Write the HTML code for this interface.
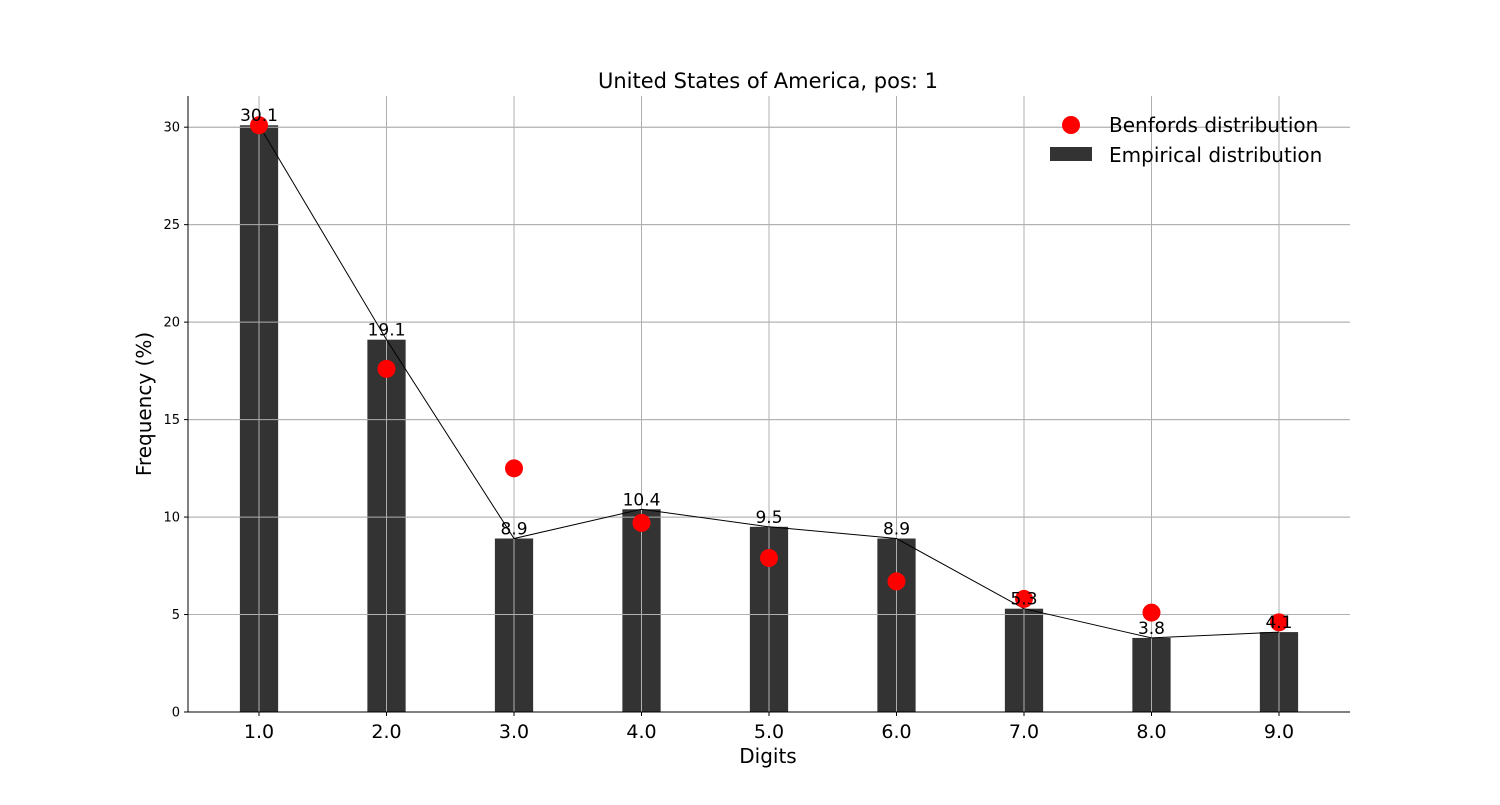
<!DOCTYPE html>
<html><head><meta charset="utf-8"><style>
body{margin:0;background:#fff}
svg text{font-family:"DejaVu Sans","Liberation Sans",sans-serif}
</style></head><body>
<svg width="1500" height="800" id="chart" xmlns="http://www.w3.org/2000/svg">
<text x="768" y="88" font-size="21" text-anchor="middle">United States of America, pos: 1</text>
<g id="grid"></g>
<g id="bars"></g>
<g id="gridTop"></g>
<g id="line"></g>
<g id="dots"></g>
<g id="labels"></g>
<g id="axes"></g>
<text x="768" y="763" font-size="20" text-anchor="middle">Digits</text>
<text transform="translate(151,404) rotate(-90)" font-size="20" text-anchor="middle">Frequency (%)</text>
<g>
<circle cx="1071" cy="125" r="9" fill="#ff0000"/>
<text x="1109" y="132" font-size="20">Benfords distribution</text>
<rect x="1050" y="147" width="42" height="14" fill="#333333"/>
<text x="1109" y="162" font-size="20">Empirical distribution</text>
</g>
</svg>
<script>
const digits=[1,2,3,4,5,6,7,8,9];
const empirical=[30.1,19.1,8.9,10.4,9.5,8.9,5.3,3.8,4.1];
const benford=[30.1,17.6,12.5,9.7,7.9,6.7,5.8,5.1,4.6];
const yTicks=[0,5,10,15,20,25,30];
const NS="http://www.w3.org/2000/svg";
const X0=188,X1=1350,Y0=712,Y1=96,xmin=0.443,xmax=9.557,ymax=31.6;
const xs=v=>X0+(v-xmin)/(xmax-xmin)*(X1-X0);
const ys=v=>Y0-v/ymax*(Y0-Y1);
function mk(tag,attrs,parent){const e=document.createElementNS(NS,tag);for(const k in attrs)e.setAttribute(k,attrs[k]);document.getElementById(parent).appendChild(e);return e;}
// grid
yTicks.forEach(t=>{const l=mk('line',{x1:X0,x2:X1,y1:ys(t),y2:ys(t),stroke:'#b0b0b0','stroke-width':1},'grid');

});
digits.forEach(d=>{const l=mk('line',{x1:xs(d),x2:xs(d),y1:Y1,y2:Y0,stroke:'#b0b0b0','stroke-width':1},'gridTop');

});
yTicks.forEach(t=>{const l=mk('line',{x1:X0,x2:X1,y1:ys(t),y2:ys(t),stroke:'#b0b0b0','stroke-width':1},'gridTop');

});
const bw=0.3*(X1-X0)/(xmax-xmin);
digits.forEach((d,i)=>{
const r=mk('rect',{x:xs(d)-bw/2,y:ys(empirical[i]),width:bw,height:Y0-ys(empirical[i]),fill:'#333333'},'bars');


const t=mk('text',{x:xs(d),y:ys(empirical[i])-4,'font-size':17,'text-anchor':'middle'},'labels');
t.textContent=empirical[i].toFixed(1);


const c=mk('circle',{cx:xs(d),cy:ys(benford[i]),r:9,fill:'#ff0000'},'dots');


const xt=mk('text',{x:xs(d),y:738,'font-size':19,'text-anchor':'middle'},'axes');
xt.textContent=d.toFixed(1);


mk('line',{x1:xs(d),x2:xs(d),y1:Y0,y2:Y0+4,stroke:'#000'},'axes');
});
const pl=mk('polyline',{points:digits.map((d,i)=>xs(d)+','+ys(empirical[i])).join(' '),fill:'none',stroke:'#000','stroke-width':1},'line');


yTicks.forEach(t=>{
const tx=mk('text',{x:X0-8,y:ys(t)+4.5,'font-size':13,'text-anchor':'end'},'axes');
tx.textContent=t;


mk('line',{x1:X0-4,x2:X0,y1:ys(t),y2:ys(t),stroke:'#000'},'axes');
});
const ax=mk('line',{x1:X0,x2:X0,y1:Y1,y2:Y0,stroke:'#000','stroke-width':1},'axes');


const bx=mk('line',{x1:X0,x2:X1,y1:Y0,y2:Y0,stroke:'#000','stroke-width':1},'axes');


</script>
</body></html>
